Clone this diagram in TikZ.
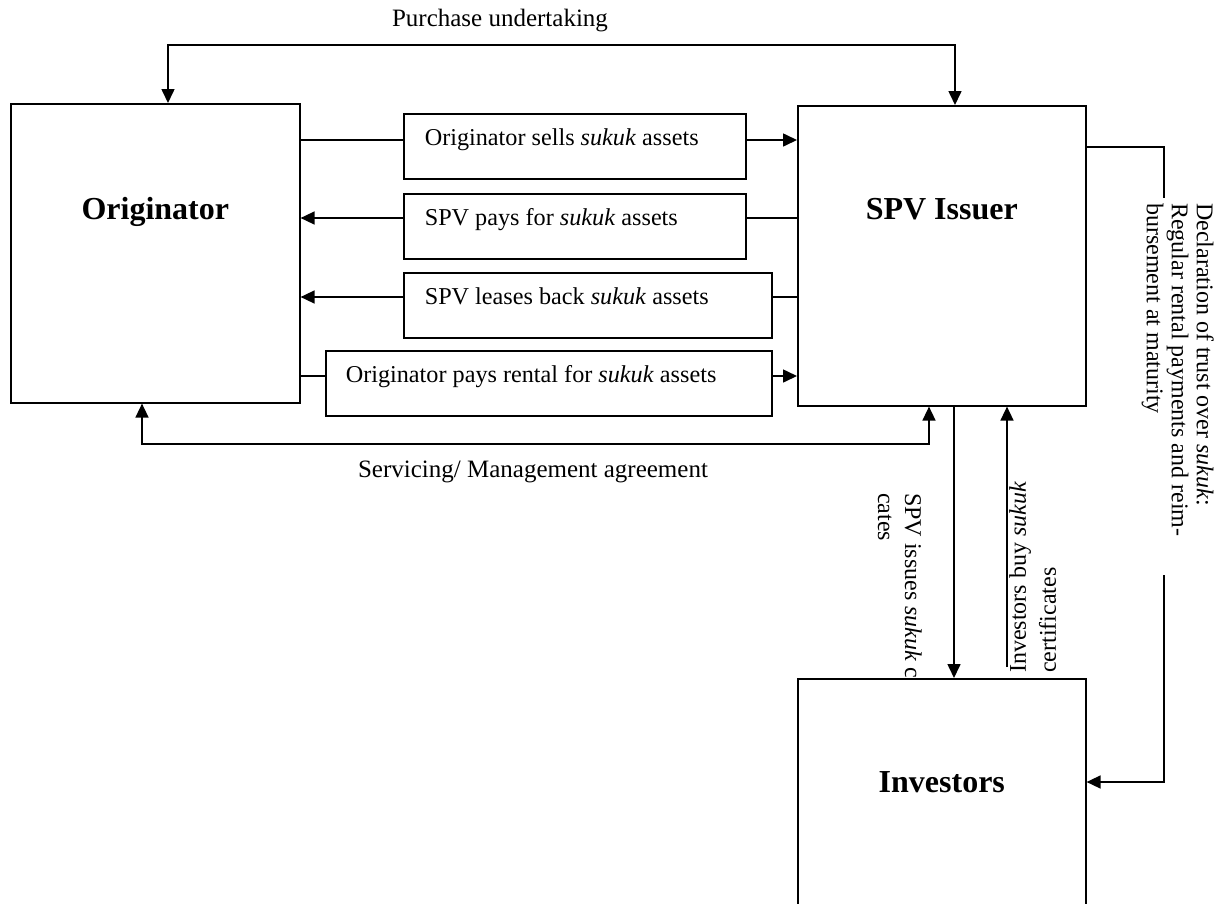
\documentclass[tikz,border=0pt]{standalone}
\usepackage{fontspec}
\setmainfont{Liberation Serif}
\usetikzlibrary{arrows.meta,calc}
\newcommand{\normsp}{\spaceskip=0pt\xspaceskip=0pt\relax}
\begin{document}
\begin{tikzpicture}[x=1pt,y=-1pt,
  every node/.style={font=\fontsize{25}{28}\selectfont},
  party/.style={draw, line width=1.6pt, inner sep=0pt, anchor=north west, font=\fontsize{32}{36}\selectfont\bfseries},
  flowbox/.style={draw, line width=1.6pt, anchor=north west, inner xsep=21pt, inner ysep=0pt, text height=32pt, text depth=33pt, align=left, font=\fontsize{24.2}{27}\selectfont},
  conn/.style={line width=1.6pt},
  arr/.style={conn, -{Triangle[length=14pt,width=13pt]}},
  biarr/.style={conn, {Triangle[length=14pt,width=13pt]}-{Triangle[length=14pt,width=13pt]}},
  vlabel/.style={inner sep=0pt, align=left, anchor=north west}
]
\useasboundingbox (0,0) rectangle (1224,903);
\clip (0,0) rectangle (1224,903);

% parties
\node[party, minimum width=289pt, text height=116pt, text depth=183pt] (orig) at (10,103) {Originator};
\node[party, minimum width=288pt, text height=114pt, text depth=186pt] (spv) at (797,105) {SPV Issuer};
\node[party, minimum width=288pt, text height=114pt, text depth=250pt] (inv) at (797,678) {Investors};

% middle boxes
\node[flowbox, text width=300pt] (b1) at (403,113) {\normsp Originator sells \textit{sukuk} assets};
\node[flowbox, text width=300pt] (b2) at (403,193) {\normsp SPV pays for \textit{sukuk} assets};
\node[flowbox, text width=326pt] (b3) at (403,272) {\normsp SPV leases back \textit{sukuk} assets};
\node[flowbox, inner xsep=20pt, text width=406pt] (b4) at (325,350) {\normsp Originator pays rental for \textit{sukuk} assets};

\coordinate (l1) at ([yshift=-27pt]b1.north west);
\coordinate (l2) at ([yshift=-25pt]b2.north west);
\coordinate (l3) at ([yshift=-25pt]b3.north west);
\coordinate (l4) at ([yshift=-26pt]b4.north west);

\draw[conn] (orig.east |- l1) -- (b1.west |- l1);
\draw[arr] (b1.east |- l1) -- (spv.west |- l1);
\draw[conn] (spv.west |- l2) -- (b2.east |- l2);
\draw[arr] (b2.west |- l2) -- (orig.east |- l2);
\draw[conn] (spv.west |- l3) -- (b3.east |- l3);
\draw[arr] (b3.west |- l3) -- (orig.east |- l3);
\draw[conn] (orig.east |- l4) -- (b4.west |- l4);
\draw[arr] (b4.east |- l4) -- (spv.west |- l4);

% purchase undertaking
\coordinate (p1) at (168,45);
\coordinate (p2) at (955,45);
\draw[biarr] (orig.north -| p1) -- (p1) -- (p2) -- (spv.north -| p2);
\node[anchor=base] (plabel) at (500,26) {Purchase undertaking};

% servicing
\coordinate (s1) at (142,444);
\coordinate (s2) at (929,444);
\draw[biarr] (orig.south -| s1) -- (s1) -- (s2) -- (spv.south -| s2);
\node[anchor=base] (slabel) at (533,477) {Servicing/ Management agreement};

% SPV issues / investors buy
\coordinate (i1) at (954,500);
\draw[arr] (spv.south -| i1) -- (inv.north -| i1);
\coordinate (ib) at (1007,667);
\draw[arr] (ib) -- (spv.south -| ib);

\node[vlabel, rotate=-90, font=\fontsize{24}{27}\selectfont] (ilabel) at (922,493) {SPV issues \textit{sukuk} c\\cates};
\node[vlabel, rotate=90, font=\fontsize{24}{30}\selectfont] (blabel) at (1009,673) {Investors buy \textit{sukuk}\\certificates};

% declaration of trust
\coordinate (d1) at (1164,147);
\coordinate (d2) at (1164,198);
\coordinate (d3) at (1164,575);
\coordinate (d4) at (1164,782);
\draw[conn] (spv.east |- d1) -- (d1) -- (d2);
\draw[arr] (d3) -- (d4) -- (inv.east |- d4);
\node[vlabel, rotate=-90, font=\fontsize{24}{25}\selectfont] (dlabel) at (1214,203) {Declaration of trust over \textit{sukuk}:\\Regular rental payments and reim-\\bursement at maturity};
\end{tikzpicture}
\end{document}
